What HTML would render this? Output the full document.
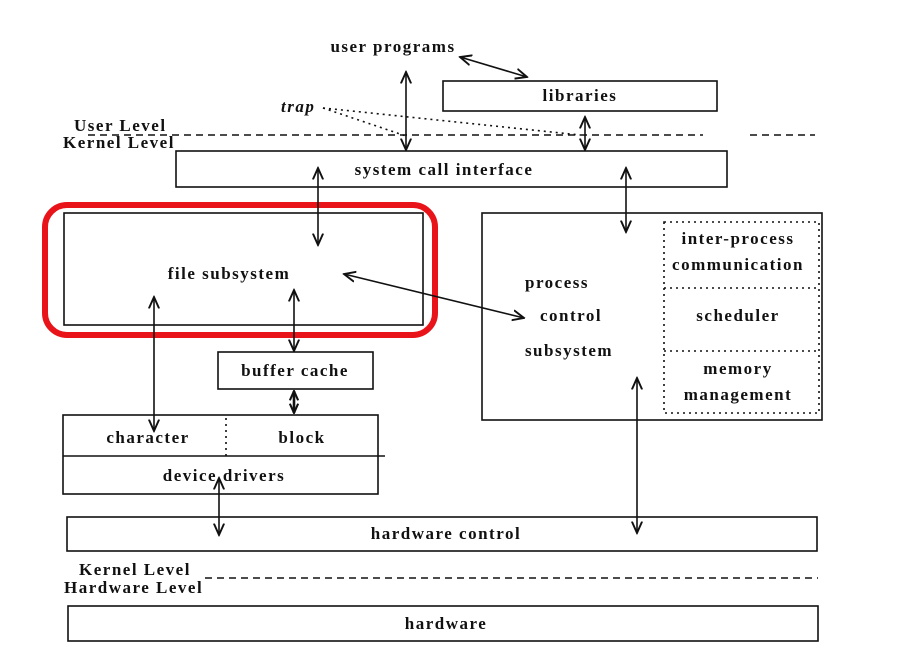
<!DOCTYPE html>
<html><head><meta charset="utf-8"><style>
html,body{margin:0;padding:0;background:#fff;}
svg{display:block;}
text{font-family:"Liberation Serif",serif;font-size:17px;font-weight:bold;fill:#111;letter-spacing:1.5px;}
</style></head><body>
<svg width="906" height="665" viewBox="0 0 906 665" xmlns="http://www.w3.org/2000/svg">
<defs>
<marker id="a" viewBox="0 0 10 10" refX="9" refY="5" markerWidth="8" markerHeight="8" orient="auto-start-reverse">
<path d="M0,1 L9,5 L0,9" fill="none" stroke="#111" stroke-width="1.5"/>
</marker>
<marker id="b" viewBox="0 0 10 10" refX="9" refY="5" markerWidth="4" markerHeight="4" orient="auto-start-reverse">
<path d="M0,1 L9,5 L0,9" fill="none" stroke="#111" stroke-width="2"/>
</marker>
</defs>
<g stroke="#111" stroke-width="1.6" fill="none">
<rect x="443" y="81" width="274" height="30"/>
<rect x="176" y="151" width="551" height="36"/>
<rect x="64" y="213" width="359" height="112"/>
<rect x="218" y="352" width="155" height="37"/>
<rect x="63" y="415" width="315" height="79"/>
<line x1="63" y1="456" x2="385" y2="456"/>
<rect x="482" y="213" width="340" height="207"/>
<rect x="67" y="517" width="750" height="34"/>
<rect x="68" y="606" width="750" height="35"/>
</g>
<g stroke="#111" stroke-width="1.6" fill="none" stroke-dasharray="2,4">
<rect x="664" y="222" width="155" height="191"/>
<line x1="664" y1="288" x2="819" y2="288"/>
<line x1="664" y1="351" x2="819" y2="351"/>
<line x1="226" y1="418" x2="226" y2="456"/>
<line x1="323" y1="108" x2="406" y2="136"/>
<line x1="323" y1="108" x2="580" y2="135"/>
</g>
<g stroke="#111" stroke-width="1.4" stroke-dasharray="7,5">
<line x1="88" y1="135" x2="703" y2="135"/>
<line x1="750" y1="135" x2="815" y2="135"/>
<line x1="205" y1="578" x2="818" y2="578"/>
</g>
<rect x="45" y="205" width="390" height="130" rx="22" ry="22" fill="none" stroke="#e8141a" stroke-width="6"/>
<g stroke="#111" stroke-width="1.6" fill="none" marker-start="url(#a)" marker-end="url(#a)">
<line x1="460" y1="57" x2="527" y2="77"/>
<line x1="406" y1="72" x2="406" y2="150"/>
<line x1="585" y1="117" x2="585" y2="150"/>
<line x1="318" y1="168" x2="318" y2="245"/>
<line x1="626" y1="168" x2="626" y2="232"/>
<line x1="344" y1="274" x2="524" y2="318"/>
<line x1="154" y1="297" x2="154" y2="431"/>
<line x1="294" y1="290" x2="294" y2="351"/>
<line x1="219" y1="478" x2="219" y2="535"/>
<line x1="637" y1="378" x2="637" y2="533"/>
</g>
<line x1="294" y1="391" x2="294" y2="413" stroke="#111" stroke-width="2.6" marker-start="url(#b)" marker-end="url(#b)"/>
<text x="393" y="52" text-anchor="middle">user programs</text>
<text x="580" y="101" text-anchor="middle">libraries</text>
<text x="281" y="112" font-style="italic">trap</text>
<text x="74" y="131">User Level</text>
<text x="63" y="148">Kernel Level</text>
<text x="444" y="175" text-anchor="middle">system call interface</text>
<text x="229" y="279" text-anchor="middle">file subsystem</text>
<text x="295" y="376" text-anchor="middle">buffer cache</text>
<text x="148" y="443" text-anchor="middle">character</text>
<text x="302" y="443" text-anchor="middle">block</text>
<text x="224" y="481" text-anchor="middle">device drivers</text>
<text x="557" y="288" text-anchor="middle">process</text>
<text x="571" y="321" text-anchor="middle">control</text>
<text x="569" y="356" text-anchor="middle">subsystem</text>
<text x="738" y="244" text-anchor="middle">inter-process</text>
<text x="738" y="270" text-anchor="middle">communication</text>
<text x="738" y="321" text-anchor="middle">scheduler</text>
<text x="738" y="374" text-anchor="middle">memory</text>
<text x="738" y="400" text-anchor="middle">management</text>
<text x="446" y="539" text-anchor="middle">hardware control</text>
<text x="79" y="575">Kernel Level</text>
<text x="64" y="593">Hardware Level</text>
<text x="446" y="629" text-anchor="middle">hardware</text>
</svg>
</body></html>
